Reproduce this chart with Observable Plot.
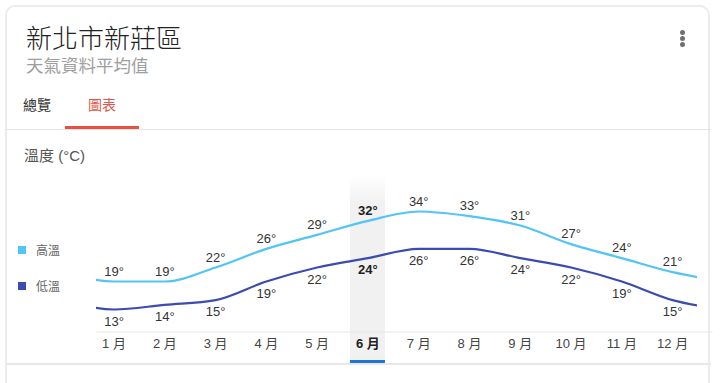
<!DOCTYPE html>
<html>
<head>
<meta charset="utf-8">
<script src="https://cdn.jsdelivr.net/npm/d3@7"></script>
<script src="https://cdn.jsdelivr.net/npm/@observablehq/plot@0.6"></script>
<style>
  html, body { margin: 0; padding: 0; background: #fff; }
  body { font-family: "Liberation Sans", Arial, "Noto Sans CJK TC", sans-serif; }
  #page { position: relative; width: 720px; height: 383px; overflow: hidden; }
  #card { position: absolute; left: 5px; top: 5px; width: 705px; height: 420px;
          border: 2px solid #ececec; border-radius: 10px 10px 0 0; box-sizing: border-box; }
  .abs { position: absolute; white-space: nowrap; }
  #title { left: 26px; top: 26px; font-size: 26px; font-weight: 300; color: #222; font-family: "Liberation Sans", "Noto Sans CJK TC", sans-serif; line-height: 26px; }
  #subtitle { left: 26px; top: 57px; font-size: 17.5px; color: #9e9e9e; font-family: "Liberation Sans", "Noto Sans CJK TC", sans-serif; line-height: 18px; }
  .tab { top: 94px; font-size: 14px; line-height: 20px; font-family: "Noto Sans CJK TC", sans-serif; }
  #tab1 { left: 23px; color: #333; }
  #tab2 { left: 88px; color: #e0574b; }
  #tabline { left: 65px; top: 126px; width: 74px; height: 3px; background: #e8503f; }
  #divider { left: 6px; top: 129px; width: 705px; height: 1px; background: #e6e6e6; }
  #bottomdiv { left: 6px; top: 363px; width: 705px; height: 2px; background: #e8e8e8; z-index: 3; }
  .dot { width: 5px; height: 5px; border-radius: 50%; background: #707070; left: 680px; }
  #ytitle { left: 24px; top: 146px; font-size: 15px; color: #555; line-height: 20px; }
  .sw { width: 8px; height: 8px; left: 18px; }
  .lg { left: 36px; font-size: 12px; color: #666; line-height: 16px; font-family: "Noto Sans CJK TC", sans-serif; }
  #chart { position: absolute; left: 0; top: 130px; z-index: 2; }
</style>
</head>
<body>
<div id="page">
  <div id="card"></div>
  <div class="abs" id="title">新北市新莊區</div>
  <div class="abs" id="subtitle">天氣資料平均值</div>
  <div class="abs tab" id="tab1">總覽</div>
  <div class="abs tab" id="tab2">圖表</div>
  <div class="abs" id="tabline"></div>
  <div class="abs" id="divider"></div>
  <div class="abs dot" style="top:30px"></div>
  <div class="abs dot" style="top:36px"></div>
  <div class="abs dot" style="top:42px"></div>
  <div class="abs" id="ytitle">溫度 (°C)</div>
  <div class="abs sw" style="top:246px;background:#52c5f5"></div>
  <div class="abs lg" style="top:242px">高溫</div>
  <div class="abs sw" style="top:282px;background:#3b4bb0"></div>
  <div class="abs lg" style="top:278px">低溫</div>
  <div id="chart"></div>
  <div class="abs" id="bottomdiv"></div>
</div>
<script>
// ---- data ----
const months = [1, 2, 3, 4, 5, 6, 7, 8, 9, 10, 11, 12];
const tickLabels = ["1 月", "2 月", "3 月", "4 月", "5 月", "6 月", "7 月", "8 月", "9 月", "10 月", "11 月", "12 月"];
const highTemps = [19, 19, 22, 26, 29, 32, 34, 33, 31, 27, 24, 21];
const lowTemps  = [13, 14, 15, 19, 22, 24, 26, 26, 24, 22, 19, 15];
const selectedMonth = 6;

const data = months.map((m, i) => ({month: m, high: highTemps[i], low: lowTemps[i]}));
// wrap around the year (previous December, next January) so the lines run to the edges
const lineData = [
  {month: 0, high: highTemps[11], low: lowTemps[11]},
  ...data,
  {month: 13, high: highTemps[0], low: lowTemps[0]}
];
const labelOf = m => tickLabels[m - 1];

const HIGH = "#52c5f5", LOW = "#3b4bb0";
const half = 0.345;

const chart = Plot.plot({
  width: 720,
  height: 253,
  marginTop: 45,
  marginBottom: 51,
  marginLeft: 96,
  marginRight: 23,
  style: {fontFamily: "'Liberation Sans', Arial, 'Noto Sans CJK TC', sans-serif", background: "transparent", overflow: "visible"},
  x: {type: "linear", domain: [0.655, 12.49], range: [96, 697], axis: null},
  y: {domain: [19, 34], range: [151, 81], axis: null},
  marks: [
    Plot.rect([selectedMonth], {x1: d => d - half, x2: d => d + half, fill: "url(#bandGrad)", insetBottom: -30}),
    Plot.rect([selectedMonth], {x1: d => d - half, x2: d => d + half, fill: "#1e74d8", insetTop: 185, insetBottom: -31}),
    Plot.frame({fill: "#e8e8e8", stroke: null, insetTop: 156, insetRight: -15}),
    Plot.axisX(months, {tickSize: 0, tickPadding: 6, tickFormat: labelOf, fontSize: 13, fill: "#444", label: null, filter: d => d !== selectedMonth}),
    Plot.axisX([selectedMonth], {tickSize: 0, tickPadding: 6, tickFormat: labelOf, fontSize: 13, fill: "#222", fontWeight: "bold", label: null}),
    Plot.line(lineData, {x: "month", y: "high", stroke: HIGH, strokeWidth: 2.2, curve: "monotone-x", clip: true}),
    Plot.line(lineData, {x: "month", y: "low", stroke: LOW, strokeWidth: 2.2, curve: "monotone-x", clip: true}),
    Plot.text(data, {x: "month", y: "high", text: d => d.high + "°", dy: -10, fontSize: 13, fill: "#333", filter: d => d.month !== selectedMonth}),
    Plot.text(data, {x: "month", y: "low", text: d => d.low + "°", dy: 12, fontSize: 13, fill: "#333", filter: d => d.month !== selectedMonth}),
    Plot.text(data, {x: "month", y: "high", text: d => d.high + "°", dy: -10, fontSize: 13, fill: "#222", fontWeight: "bold", filter: d => d.month === selectedMonth}),
    Plot.text(data, {x: "month", y: "low", text: d => d.low + "°", dy: 12, fontSize: 13, fill: "#222", fontWeight: "bold", filter: d => d.month === selectedMonth})
  ]
});

const ns = "http://www.w3.org/2000/svg";
const defs = document.createElementNS(ns, "defs");
defs.innerHTML = '<linearGradient id="bandGrad" x1="0" y1="0" x2="0" y2="1">' +
  '<stop offset="0" stop-color="#f1f1f1" stop-opacity="0"/>' +
  '<stop offset="0.15" stop-color="#f1f1f1" stop-opacity="1"/>' +
  '<stop offset="1" stop-color="#f1f1f1" stop-opacity="1"/></linearGradient>';
chart.insertBefore(defs, chart.firstChild);
document.getElementById("chart").appendChild(chart);
</script>
</body>
</html>
